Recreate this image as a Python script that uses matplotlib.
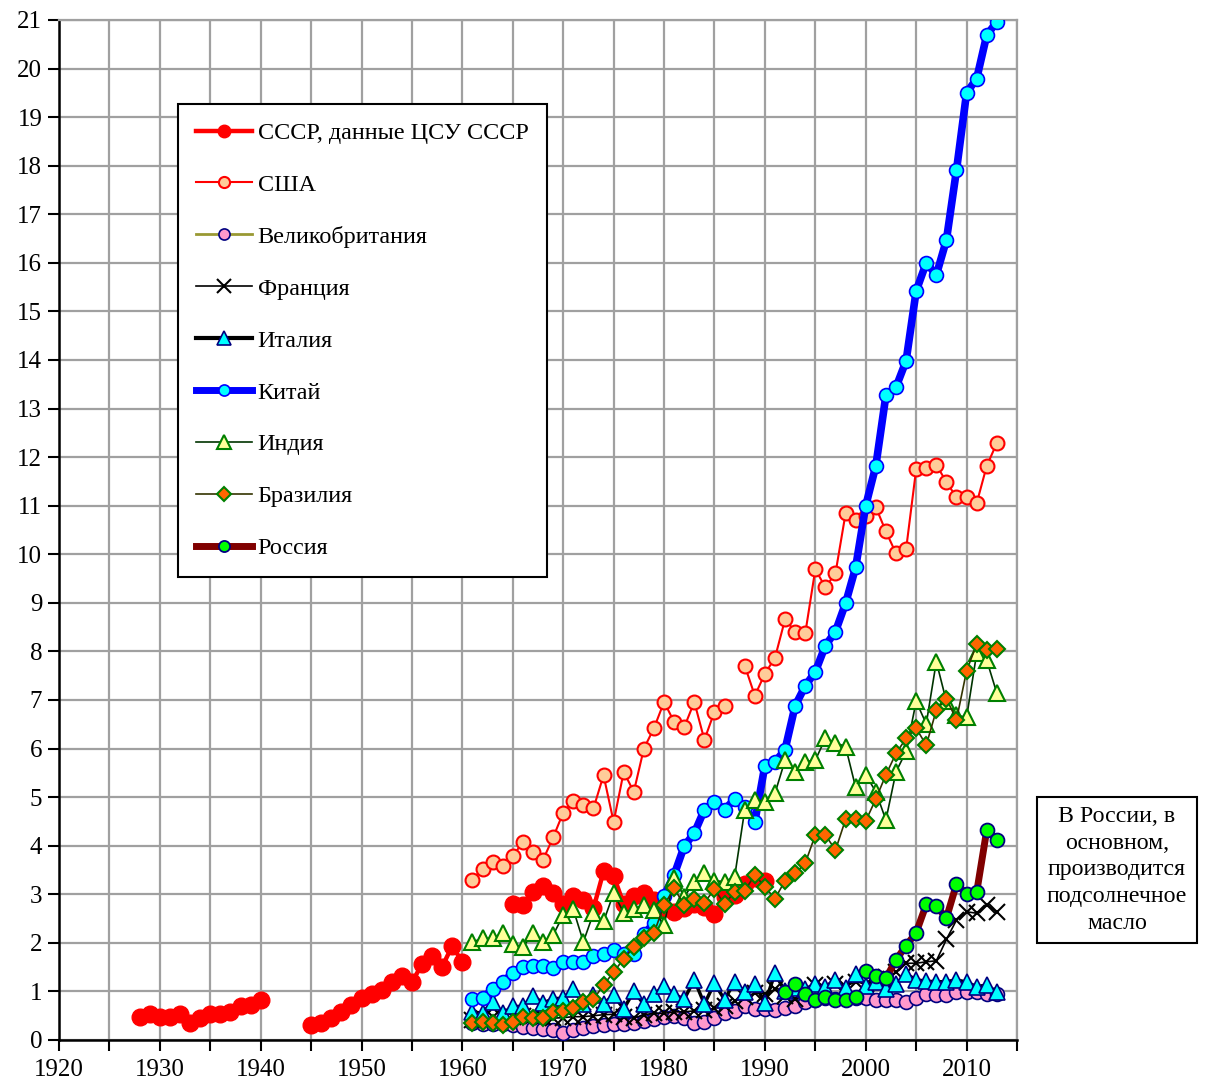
import numpy as np
import matplotlib
matplotlib.use("Agg")
import matplotlib.pyplot as plt
from matplotlib.lines import Line2D

plt.rcParams['font.family'] = ['Liberation Serif', 'DejaVu Serif']

nan = np.nan

# СССР, данные ЦСУ СССР (пропуски - нет данных)
years_ussr = list(range(1928, 1991))
ussr = [0.48, 0.53, 0.48, 0.48, 0.53, 0.36, 0.45, 0.53, 0.53, 0.57, 0.69, 0.73, 0.82,
        nan, nan, nan, nan,
        0.31, 0.36, 0.45, 0.57, 0.73, 0.86, 0.94, 1.03, 1.19, 1.32, 1.19, 1.56, 1.72, 1.51, 1.94, 1.60,
        nan, nan, nan, nan,
        2.80, 2.77, 3.05, 3.17, 3.02, 2.80, 2.96, 2.88, 2.71, 3.47, 3.38, 2.80, 2.96, 3.02, 2.88,
        2.71, 2.64, 2.71, 2.81, 2.74, 2.59, 2.95, 2.99, 3.21, 3.33, 3.28]

years = list(range(1961, 2014))
usa = [3.30, 3.53, 3.66, 3.58, 3.79, 4.07, 3.87, 3.71, 4.17, 4.68,
       4.93, 4.83, 4.77, 5.45, 4.49, 5.52, 5.11, 6.00, 6.42, 6.96,
       6.55, 6.44, 6.96, 6.18, 6.76, 6.88, nan, 7.71, 7.09, 7.54,
       7.87, 8.66, 8.41, 8.37, 9.69, 9.32, 9.61, 10.84, 10.71, 10.79,
       10.97, 10.47, 10.02, 10.10, 11.75, 11.78, 11.84, 11.49, 11.17, 11.17,
       11.05, 11.82, 12.29]
uk = [0.35, 0.33, 0.32, 0.32, 0.30, 0.27, 0.25, 0.23, 0.20, 0.15,
      0.20, 0.24, 0.28, 0.30, 0.32, 0.33, 0.36, 0.40, 0.44, 0.47,
      0.50, 0.45, 0.35, 0.38, 0.45, 0.55, 0.60, 0.69, 0.64, 0.64,
      0.61, 0.66, 0.71, 0.78, 0.82, 0.86, 0.84, 0.84, 0.86, 0.87,
      0.83, 0.83, 0.83, 0.78, 0.86, 0.95, 0.92, 0.92, 0.99, 0.99,
      0.99, 0.95, 0.95]
france = [0.42, 0.45, 0.47, 0.45, 0.48, 0.50, 0.50, 0.48, 0.45, 0.46,
          0.48, 0.48, 0.50, 0.52, 0.53, 0.48, 0.45, 0.52, 0.55, 0.55,
          0.58, 0.58, 0.60, 0.62, 0.65, 0.70, 0.80, 0.88, 0.97, 0.95,
          1.04, 0.90, 0.85, 1.00, 1.13, 1.04, 1.15, 1.10, 1.20, 1.15,
          1.25, 1.30, 1.39, 1.58, 1.58, 1.61, 1.63, 2.07, 2.47, 2.64,
          2.61, 2.78, 2.64]
italy = [0.58, 0.55, 0.79, 0.55, 0.69, 0.69, 0.91, 0.76, 0.85, 0.86,
         1.05, 0.74, 0.92, 0.75, 0.92, 0.64, 1.00, 0.74, 0.94, 1.11,
         0.94, 0.84, 1.24, 0.74, 1.17, 0.83, 1.20, 0.99, 1.16, 0.76,
         1.37, 1.00, 1.07, 1.05, 1.15, 1.10, 1.24, 1.08, 1.35, 1.12,
         1.20, 1.06, 1.15, 1.36, 1.24, 1.21, 1.20, 1.20, 1.24, 1.19,
         1.10, 1.13, 0.99]
china = [0.84, 0.87, 1.04, 1.20, 1.37, 1.51, 1.53, 1.53, 1.48, 1.61,
         1.61, 1.61, 1.72, 1.77, 1.85, 1.78, 1.77, 2.18, 2.40, 2.97,
         3.40, 3.99, 4.26, 4.74, 4.91, 4.74, 4.96, 4.80, 4.49, 5.65,
         5.72, 5.98, 6.88, 7.29, 7.58, 8.12, 8.41, 8.99, 9.73, 11.00,
         11.82, 13.27, 13.44, 13.98, 15.42, 16.00, 15.75, 16.47, 17.91, 19.50,
         19.79, 20.69, 20.96]
india = [2.02, 2.09, 2.09, 2.20, 1.98, 1.91, 2.20, 2.02, 2.16, 2.57,
         2.69, 2.02, 2.61, 2.44, 3.02, 2.62, 2.70, 2.78, 2.68, 2.36,
         3.34, 2.95, 3.25, 3.43, 3.28, 3.26, 3.36, 4.74, 4.95, 4.91,
         5.08, 5.76, 5.52, 5.73, 5.76, 6.21, 6.12, 6.04, 5.20, 5.46,
         5.11, 4.53, 5.52, 5.94, 6.97, 6.51, 7.79, 6.97, 6.69, 6.64,
         7.96, 7.82, 7.14]
brazil = [0.34, 0.38, 0.34, 0.31, 0.38, 0.47, 0.45, 0.45, 0.57, 0.60,
          0.65, 0.79, 0.84, 1.13, 1.40, 1.67, 1.91, 2.09, 2.20, 2.78,
          3.12, 2.78, 2.90, 2.83, 3.10, 2.80, 3.05, 3.07, 3.40, 3.15,
          2.91, 3.28, 3.43, 3.64, 4.22, 4.22, 3.91, 4.54, 4.54, 4.51,
          4.96, 5.46, 5.90, 6.21, 6.42, 6.07, 6.79, 7.03, 6.59, 7.60,
          8.15, 8.02, 8.06]

years_russia = list(range(1992, 2014))
russia = [0.98, 1.15, 0.95, 0.82, 0.89, 0.82, 0.82, 0.89, 1.43, 1.31,
          1.27, 1.65, 1.94, 2.21, 2.79, 2.76, 2.51, 3.21, 3.01, 3.04,
          4.32, 4.12]
russia_line_from = 2002

labels = ['СССР, данные ЦСУ СССР', 'США', 'Великобритания', 'Франция', 'Италия',
          'Китай', 'Индия', 'Бразилия', 'Россия']
note = 'В России, в\nосновном,\nпроизводится\nподсолнечное\nмасло'

fig = plt.figure(figsize=(12.07, 10.82), dpi=100)
ax = fig.add_axes([59/1207, 1 - 1040/1082, (1017-59)/1207, (1040-20)/1082])

ax.plot(years_ussr, ussr, color='#ff0000', lw=3.2, marker='o', ms=12,
        mfc='#ff0000', mec='#ff0000', zorder=3)
ax.plot(years, usa, color='#ff0000', lw=1.5, marker='o', ms=10,
        mfc='#ffcc99', mec='#ff0000', mew=1.5, zorder=4)
ax.plot(years, uk, color='#ff99cc', lw=2, marker='o', ms=10,
        mfc='#ff99cc', mec='#000080', mew=1.2, zorder=5)
ax.plot(years, france, color='black', lw=1.2, marker='x', ms=11,
        mew=1.5, zorder=6)
ax.plot(years, italy, color='black', lw=2.5, marker='^', ms=12,
        mfc='#00ffff', mec='#000080', mew=1.2, zorder=7)
ax.plot(years, china, color='#0000ff', lw=5.5, marker='o', ms=10,
        mfc='#00ffff', mec='#0000ff', mew=1.2, zorder=8)
ax.plot(years, india, color='#003300', lw=1.2, marker='^', ms=12,
        mfc='#ffff99', mec='#008000', mew=1.5, zorder=9)
ax.plot(years, brazil, color='#333300', lw=1.2, marker='D', ms=8,
        mfc='#ff6600', mec='#008000', mew=1.5, zorder=10)

yr_r = np.array(years_russia)
val_r = np.array(russia)
sel = yr_r >= russia_line_from
ax.plot(yr_r[sel], val_r[sel], color='#800000', lw=5, zorder=11)
ax.plot(yr_r, val_r, ls='none', marker='o', ms=10,
        mfc='#00ff00', mec='#000080', mew=1.3, zorder=12)

ax.set_xlim(1920, 2015)
ax.set_ylim(0, 21)
ax.set_xticks(range(1920, 2011, 10))
ax.set_xticks(range(1920, 2016, 5), minor=True)
ax.set_yticks(range(0, 22))
ax.grid(True, which='both', color='#a0a0a0', lw=1.6)
ax.set_axisbelow(True)
for s in ['top', 'right']:
    ax.spines[s].set_color('#a0a0a0')
    ax.spines[s].set_linewidth(1.6)
for s in ['left', 'bottom']:
    ax.spines[s].set_linewidth(1.8)
ax.tick_params(which='both', direction='out', length=8, width=1.5, labelsize=18)
ax.tick_params(axis='x', pad=6)
ax.tick_params(axis='y', pad=4)

handles = [
    Line2D([], [], color='#ff0000', lw=3.2, marker='o', ms=9, mfc='#ff0000', mec='#ff0000'),
    Line2D([], [], color='#ff0000', lw=1.5, marker='o', ms=8, mfc='#ffcc99', mec='#ff0000', mew=1.5),
    Line2D([], [], color='#999933', lw=2, marker='o', ms=8, mfc='#ff99cc', mec='#000080', mew=1.2),
    Line2D([], [], color='black', lw=1.2, marker='x', ms=10, mew=1.5),
    Line2D([], [], color='black', lw=3, marker='^', ms=10, mfc='#00ffff', mec='#000080', mew=1.2),
    Line2D([], [], color='#0000ff', lw=5, marker='o', ms=8, mfc='#00ffff', mec='#0000ff', mew=1.2),
    Line2D([], [], color='#003300', lw=1.2, marker='^', ms=10, mfc='#ffff99', mec='#008000', mew=1.5),
    Line2D([], [], color='#333300', lw=1.2, marker='D', ms=7, mfc='#ff6600', mec='#008000', mew=1.5),
    Line2D([], [], color='#800000', lw=5, marker='o', ms=8, mfc='#00ff00', mec='#000080', mew=1.3),
]
leg = ax.legend(handles, labels, loc='upper left', bbox_to_anchor=((178-59)/958, (1040-104)/1020),
                borderaxespad=0, fontsize=17.4, frameon=True, fancybox=False,
                edgecolor='black', framealpha=1, handlelength=2.3, handletextpad=0.25,
                labelspacing=1.24, borderpad=0.75)
leg.get_frame().set_linewidth(1.5)
leg.set_zorder(20)

fig.text(1117/1207, 1 - 870/1082, note, ha='center', va='center', fontsize=17.2,
         linespacing=1.35,
         bbox=dict(boxstyle='square,pad=0.4', fc='white', ec='black', lw=1.5))

fig.savefig('out.png', dpi=100)
